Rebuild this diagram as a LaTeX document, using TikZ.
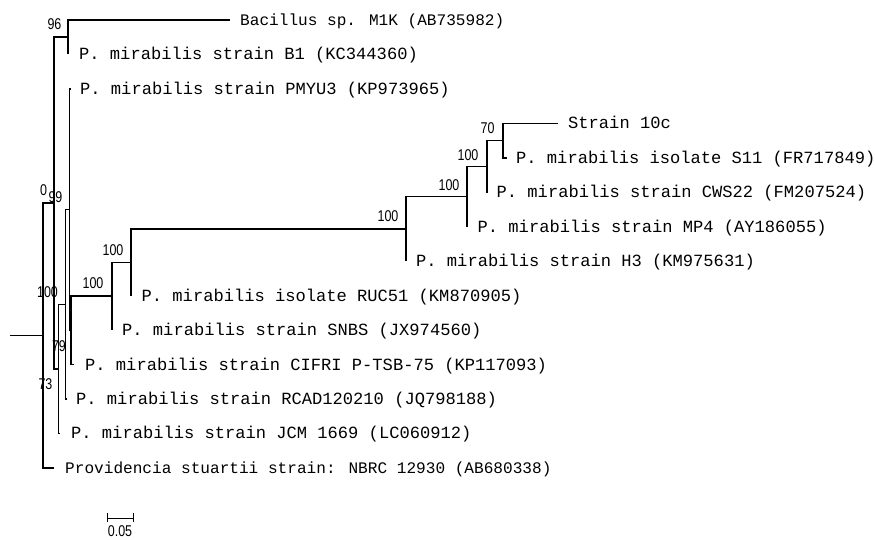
\documentclass[tikz,border=0pt]{standalone}
\usepackage{fontspec}
\setmainfont{Liberation Sans}
\newfontfamily\tipfont{Liberation Mono}
\newfontfamily\bsfont[FakeStretch=0.8]{Liberation Sans}
\begin{document}
\begin{tikzpicture}[x=1pt,y=-1pt,
  branch/.style={line width=1.5pt},
  tiplabel/.style={anchor=base west, inner sep=0pt, font=\fontsize{17.1}{19}\tipfont},
  tiplabelnarrow/.style={tiplabel, font=\fontsize{16.1}{18}\tipfont},
  boot/.style={inner sep=0pt, font=\fontsize{15.6}{17}\bsfont},
  scalebar/.style={line width=1pt}]
\useasboundingbox (0,0) rectangle (875,539);
% internal nodes
\coordinate (r0) at (10,335.4);
\coordinate (root) at (43,335.4);
\coordinate (A) at (54,203.0);
\coordinate (n96) at (68,37.2);
\coordinate (B) at (58.5,368.85);
\coordinate (E) at (65.5,304.3);
\coordinate (D) at (69.5,209.6);
\coordinate (F) at (71,330.3);
\coordinate (N1) at (112,296.15);
\coordinate (N2) at (131,262.25);
\coordinate (N3) at (406,228.9);
\coordinate (N4) at (467,196.6);
\coordinate (N5) at (487,166.4);
\coordinate (N6) at (503,140.6);
% tips
\coordinate (t1) at (230,20);
\coordinate (t2) at (68,54.45);
\coordinate (t3) at (70,88.9);
\coordinate (t4) at (558,123.35);
\coordinate (t5) at (507,157.8);
\coordinate (t6) at (487.5,192.25);
\coordinate (t7) at (467.5,226.7);
\coordinate (t8) at (406,261.15);
\coordinate (t9) at (131.5,295.6);
\coordinate (t10) at (112,330.05);
\coordinate (t11) at (74,364.5);
\coordinate (t12) at (66,398.95);
\coordinate (t13) at (59,433.4);
\coordinate (t14) at (54,467.85);
% branches
\draw[branch] (r0) -- (root);
\draw[branch] (root) |- (A);
\draw[branch] (root) |- (t14);
\draw[branch] (A) |- (n96);
\draw[branch] (A) |- (B);
\draw[branch] (n96) |- (t1);
\draw[branch] (n96) |- (t2);
\draw[branch] (B) |- (E);
\draw[branch] (B) |- (t13);
\draw[branch] (E) |- (D);
\draw[branch] (E) |- (t12);
\draw[branch] (D) |- (t3);
\draw[branch] (D) |- (F);
\draw[branch] (F) |- (N1);
\draw[branch] (F) |- (t11);
\draw[branch] (N1) |- (N2);
\draw[branch] (N1) |- (t10);
\draw[branch] (N2) |- (N3);
\draw[branch] (N2) |- (t9);
\draw[branch] (N3) |- (N4);
\draw[branch] (N3) |- (t8);
\draw[branch] (N4) |- (N5);
\draw[branch] (N4) |- (t7);
\draw[branch] (N5) |- (N6);
\draw[branch] (N5) |- (t6);
\draw[branch] (N6) |- (t4);
\draw[branch] (N6) |- (t5);
% tip labels
\node[tiplabelnarrow] (L1) at ([xshift=10pt,yshift=-5.5pt]t1) {Bacillus sp. M1K (AB735982)};
\node[tiplabel] (L2) at ([xshift=11pt,yshift=-5.5pt]t2) {P. mirabilis strain B1 (KC344360)};
\node[tiplabel] (L3) at ([xshift=10pt,yshift=-5.5pt]t3) {P. mirabilis strain PMYU3 (KP973965)};
\node[tiplabel] (L4) at ([xshift=10pt,yshift=-5.5pt]t4) {Strain 10c};
\node[tiplabel] (L5) at ([xshift=9pt,yshift=-5.5pt]t5) {P. mirabilis isolate S11 (FR717849)};
\node[tiplabel] (L6) at ([xshift=9pt,yshift=-5.5pt]t6) {P. mirabilis strain CWS22 (FM207524)};
\node[tiplabel] (L7) at ([xshift=10pt,yshift=-5.5pt]t7) {P. mirabilis strain MP4 (AY186055)};
\node[tiplabel] (L8) at ([xshift=10pt,yshift=-5.5pt]t8) {P. mirabilis strain H3 (KM975631)};
\node[tiplabel] (L9) at ([xshift=10pt,yshift=-5.5pt]t9) {P. mirabilis isolate RUC51 (KM870905)};
\node[tiplabel] (L10) at ([xshift=10pt,yshift=-5.5pt]t10) {P. mirabilis strain SNBS (JX974560)};
\node[tiplabel] (L11) at ([xshift=11pt,yshift=-5.5pt]t11) {P. mirabilis strain CIFRI P-TSB-75 (KP117093)};
\node[tiplabel] (L12) at ([xshift=10pt,yshift=-5.5pt]t12) {P. mirabilis strain RCAD120210 (JQ798188)};
\node[tiplabel] (L13) at ([xshift=12pt,yshift=-5.5pt]t13) {P. mirabilis strain JCM 1669 (LC060912)};
\node[tiplabelnarrow] (L14) at ([xshift=11pt,yshift=-5.5pt]t14) {Providencia stuartii strain: NBRC 12930 (AB680338)};
% bootstrap values
\node[boot] (b96) at (54.5,24) {96};
\node[boot] (b0) at (43.5,190) {0};
\node[boot] (b99) at (55.5,197.5) {99};
\node[boot] (bE) at (47.5,292) {100};
\node[boot] (b79) at (59,346) {79};
\node[boot] (b73) at (45.5,384) {73};
\node[boot] (bN1) at (93,283) {100};
\node[boot] (bN2) at (113,250) {100};
\node[boot] (bN3) at (388,216) {100};
\node[boot] (bN4) at (449,185) {100};
\node[boot] (bN5) at (468,155) {100};
\node[boot] (bN6) at (487.5,128.5) {70};
% scale bar
\coordinate (s1) at (107,518);
\coordinate (s2) at (133,518);
\draw[scalebar] (s1) -- (s2);
\draw[scalebar] ([yshift=5pt]s1) -- ([yshift=-3.5pt]s1);
\draw[scalebar] ([yshift=5pt]s2) -- ([yshift=-3.5pt]s2);
\node[boot] (sl) at (120,531) {0.05};
\end{tikzpicture}
\end{document}
